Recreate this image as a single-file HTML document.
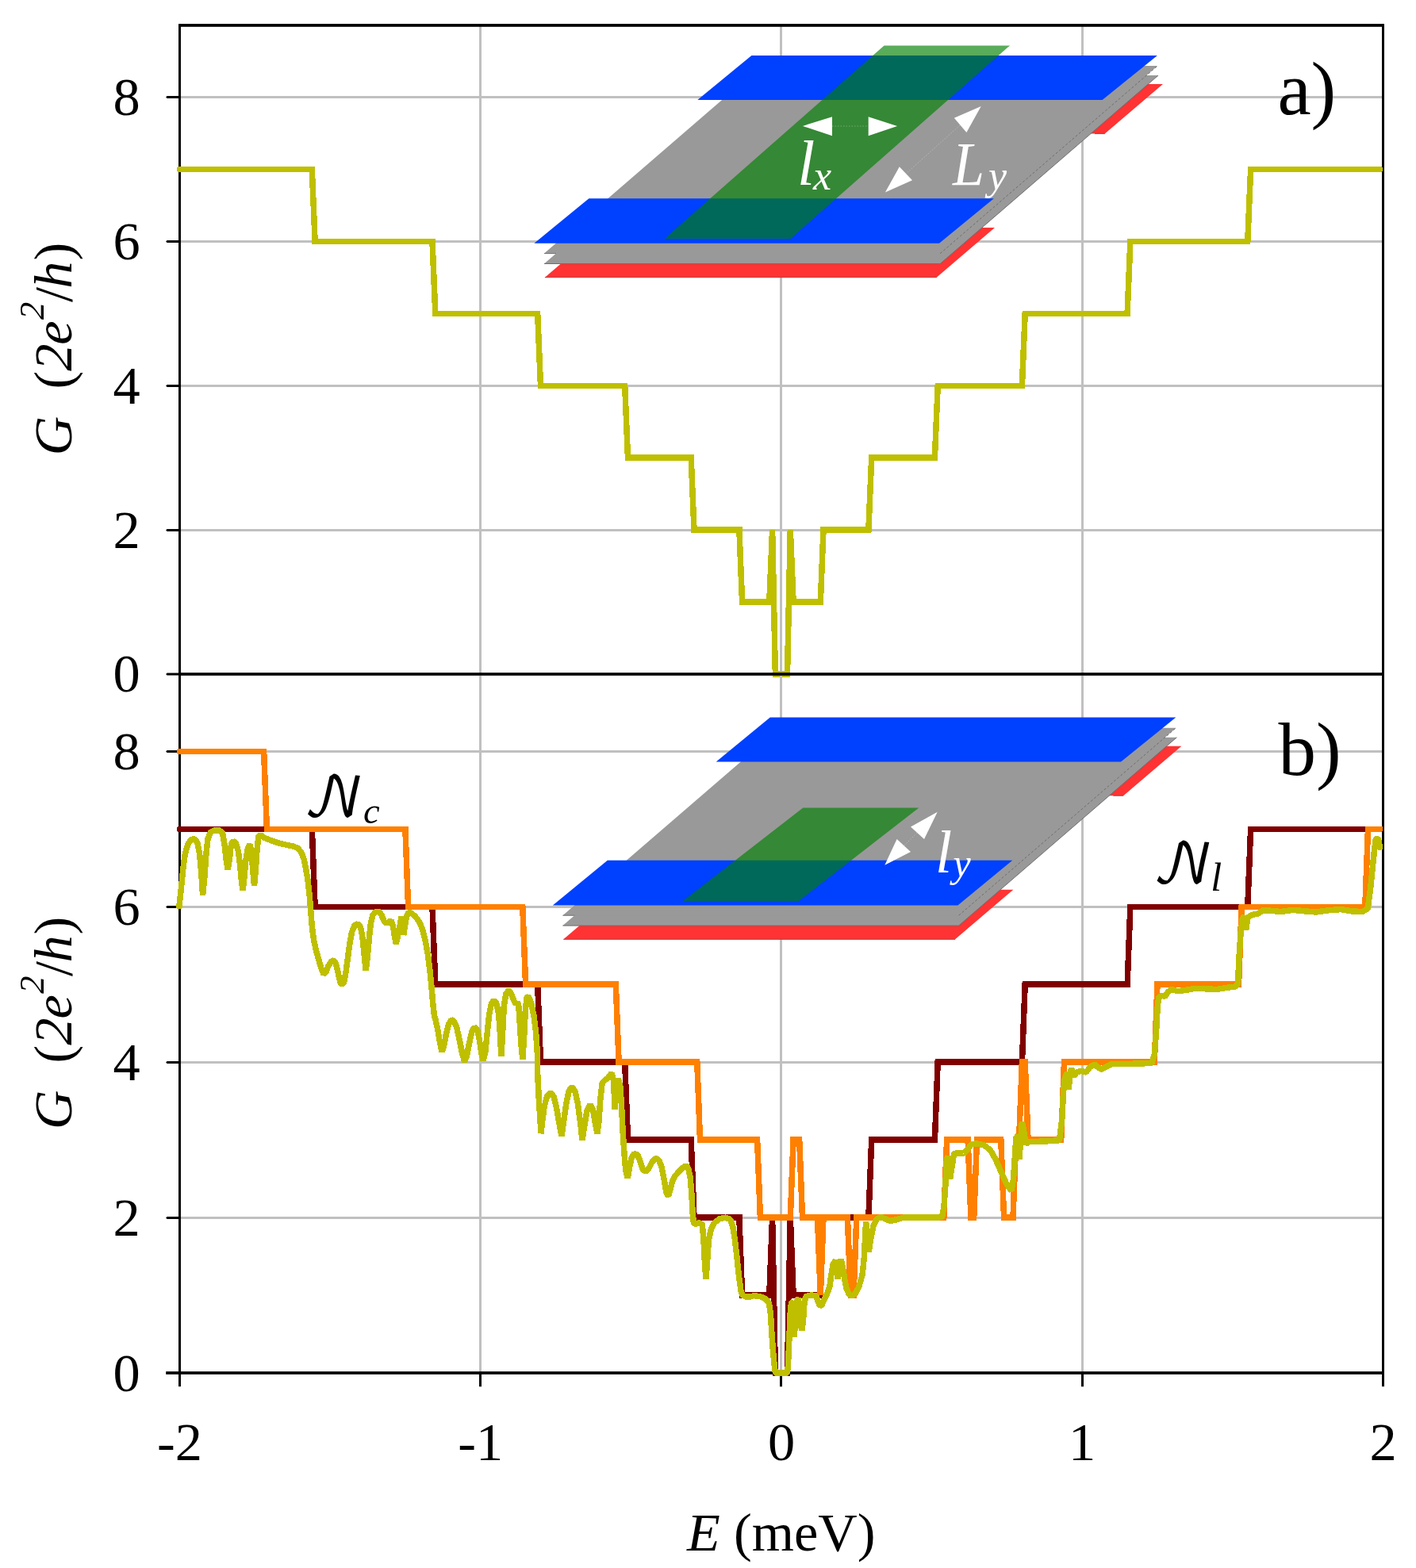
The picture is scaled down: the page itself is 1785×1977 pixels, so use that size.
<!DOCTYPE html>
<html lang="en">
<head>
<meta charset="utf-8">
<title>Conductance G versus energy E</title>
<style>html,body{margin:0;padding:0;background:#fff}svg{display:block}</style>
</head>
<body>
<svg width="1785" height="1977" viewBox="0 0 1785 1977" role="img" aria-label="Conductance G (2e2/h) versus energy E (meV), panels a and b">
<rect width="1785" height="1977" fill="#fff"/>
<rect x="604" y="32" width="3" height="818" fill="#c0c0c0"/>
<rect x="983" y="32" width="3" height="818" fill="#c0c0c0"/>
<rect x="1363" y="32" width="3" height="818" fill="#c0c0c0"/>
<rect x="226.5" y="667" width="1517" height="3" fill="#c0c0c0"/>
<rect x="226.5" y="485" width="1517" height="3" fill="#c0c0c0"/>
<rect x="226.5" y="303" width="1517" height="3" fill="#c0c0c0"/>
<rect x="226.5" y="121" width="1517" height="3" fill="#c0c0c0"/>
<rect x="225" y="30.1" width="3" height="819.9" fill="#000"/>
<rect x="1742" y="30.1" width="3" height="819.9" fill="#000"/>
<rect x="226.5" y="30.1" width="1517" height="3.7" fill="#000"/>
<polygon points="226.5,848.4 210.5,848.4 209.2,849.9 210.5,851.4 226.5,851.4" fill="#000"/>
<polygon points="226.5,667 210.5,667 209.2,668.5 210.5,670 226.5,670" fill="#000"/>
<polygon points="226.5,485 210.5,485 209.2,486.5 210.5,488 226.5,488" fill="#000"/>
<polygon points="226.5,303 210.5,303 209.2,304.5 210.5,306 226.5,306" fill="#000"/>
<polygon points="226.5,121 210.5,121 209.2,122.5 210.5,124 226.5,124" fill="#000"/>
<g transform="translate(0,0)">
<polygon points="686.9,349.7 1180.7,349.7 1254,287.1 760.2,287.1" fill="#ff3333"/>
<polygon points="899,168.6 1392.8,168.6 1466,106.1 972.2,106.1" fill="#ff3333"/>
<path d="M686.9,349.7H1180.7M1392.8,168.6H1380" stroke="#8a4a4a" stroke-width="1" fill="none"/>
<polygon points="686,332.5 1185.2,332.5 1460,95.1 960.8,95.1" fill="#999"/>
<path d="M686,332.5H1185.2L1460,95.1" stroke="#6e6e6e" stroke-width="1" fill="none"/>
<polygon points="686,319.6 1185.2,319.6 1459.1,83.1 959.9,83.1" fill="#999"/>
<path d="M686,319.6H701" stroke="#6e6e6e" stroke-width="1" fill="none"/>
<path d="M1185.2,319.6L1459.1,83.1" stroke="#6e6e6e" stroke-width="1" stroke-dasharray="3 2.5" fill="none"/>
<polygon points="673.4,306.8 1184,306.8 1252.9,250.2 742.4,250.2" fill="#0040ff"/>
<polygon points="879.3,126 1389.6,126 1458.9,70 947.4,70" fill="#0040ff"/>
</g>
<polygon points="837.7,300.9 996.6,300.9 1273.1,57.4 1114.5,57.4" fill="#008000" fill-opacity="0.65"/>
<g fill="#fff"><polygon points="1011.9,158.9 1049,147.2 1049,171.2"/><polygon points="1131.1,158.9 1094.7,147.2 1094.7,171.2"/><polygon points="1236.7,134.1 1202.8,148.8 1218.4,166.9"/><polygon points="1115.9,242.6 1133.8,210.3 1150,227.3"/></g><g stroke="#fff" stroke-opacity="0.3" stroke-width="1" stroke-dasharray="1.5 2" fill="none"><line x1="1049" y1="159" x2="1094.7" y2="159"/><line x1="1210" y1="158" x2="1142" y2="219"/></g>
<g fill="#fff" font-family="'Liberation Serif', serif" font-style="italic"><text x="1005" y="233.4" font-size="80">l</text><text x="1025" y="239" font-size="52">x</text><text x="1201" y="232.7" font-size="79" textLength="40" lengthAdjust="spacingAndGlyphs">L</text><text x="1246" y="238.6" font-size="52">y</text></g>
<polyline points="226.4,213.6 393.3,213.6 397.1,304.5 545,304.5 548.8,395.4 677.7,395.4 681.5,486.3 787.7,486.3 791.5,577.2 871.2,577.2 875,668.1 931.9,668.1 935.6,759 969.8,759 973.6,668.1 977.4,849.9 992.5,849.9 996.3,668.1 1000.1,759 1034.3,759 1038,668.1 1094.9,668.1 1098.7,577.2 1178.4,577.2 1182.2,486.3 1288.4,486.3 1292.2,395.4 1421.1,395.4 1424.9,304.5 1572.8,304.5 1576.6,213.6 1739.7,213.6" fill="none" stroke="#bfbf00" stroke-width="7.5" stroke-linejoin="miter" stroke-miterlimit="2" stroke-linecap="round" shape-rendering="crispEdges"/>
<rect x="604" y="851.9" width="3" height="879.1" fill="#c0c0c0"/>
<rect x="983" y="851.9" width="3" height="879.1" fill="#c0c0c0"/>
<rect x="1363" y="851.9" width="3" height="879.1" fill="#c0c0c0"/>
<rect x="226.5" y="1534" width="1517" height="3" fill="#c0c0c0"/>
<rect x="226.5" y="1338" width="1517" height="3" fill="#c0c0c0"/>
<rect x="226.5" y="1142" width="1517" height="3" fill="#c0c0c0"/>
<rect x="226.5" y="946" width="1517" height="3" fill="#c0c0c0"/>
<rect x="225" y="848.1" width="3" height="900.1" fill="#000"/>
<rect x="1742" y="848.1" width="3" height="900.1" fill="#000"/>
<rect x="226.5" y="848.1" width="1517" height="3.7" fill="#000"/>
<rect x="209.2" y="1729.2" width="1534.3" height="3.7" fill="#000"/>
<rect x="604" y="1731" width="3" height="17.3" fill="#000"/>
<rect x="983" y="1731" width="3" height="17.3" fill="#000"/>
<rect x="1363" y="1731" width="3" height="17.3" fill="#000"/>
<polygon points="226.5,1534 210.5,1534 209.2,1535.5 210.5,1537 226.5,1537" fill="#000"/>
<polygon points="226.5,1338 210.5,1338 209.2,1339.5 210.5,1341 226.5,1341" fill="#000"/>
<polygon points="226.5,1142 210.5,1142 209.2,1143.5 210.5,1145 226.5,1145" fill="#000"/>
<polygon points="226.5,946 210.5,946 209.2,947.5 210.5,949 226.5,949" fill="#000"/>
<g transform="translate(23.4,834.6)">
<polygon points="686.9,349.7 1180.7,349.7 1254,287.1 760.2,287.1" fill="#ff3333"/>
<polygon points="899,168.6 1392.8,168.6 1466,106.1 972.2,106.1" fill="#ff3333"/>
<path d="M686.9,349.7H1180.7M1392.8,168.6H1380" stroke="#8a4a4a" stroke-width="1" fill="none"/>
<polygon points="686,332.5 1185.2,332.5 1460,95.1 960.8,95.1" fill="#999"/>
<path d="M686,332.5H1185.2L1460,95.1" stroke="#6e6e6e" stroke-width="1" fill="none"/>
<polygon points="686,319.6 1185.2,319.6 1459.1,83.1 959.9,83.1" fill="#999"/>
<path d="M686,319.6H701" stroke="#6e6e6e" stroke-width="1" fill="none"/>
<path d="M1185.2,319.6L1459.1,83.1" stroke="#6e6e6e" stroke-width="1" stroke-dasharray="3 2.5" fill="none"/>
<polygon points="673.4,306.8 1184,306.8 1252.9,250.2 742.4,250.2" fill="#0040ff"/>
<polygon points="879.3,126 1389.6,126 1458.9,70 947.4,70" fill="#0040ff"/>
</g>
<polygon points="860.9,1136 1006.9,1136 1158.3,1018.5 1012.3,1018.5" fill="#008000" fill-opacity="0.65"/>
<g fill="#fff"><polygon points="1181.7,1023.8 1148,1042.4 1165,1058"/><polygon points="1115.3,1090.8 1130.6,1058 1148,1074.1"/></g><g stroke="#fff" stroke-opacity="0.3" stroke-width="1" stroke-dasharray="1.5 2" fill="none"><line x1="1156" y1="1050" x2="1140" y2="1066"/></g>
<g fill="#fff" font-family="'Liberation Serif', serif" font-style="italic"><text x="1179" y="1099.5" font-size="76">l</text><text x="1201.5" y="1105" font-size="50">y</text></g>
<polyline points="226.4,1045.3 393.3,1045.3 397.1,1143.3 545,1143.3 548.8,1241.2 677.7,1241.2 681.5,1339.2 787.7,1339.2 791.5,1437.2 871.2,1437.2 875,1535.1 931.9,1535.1 935.6,1633 969.8,1633 973.6,1535.1 977.4,1731 992.5,1731 996.3,1535.1 1000.1,1633 1034.3,1633 1038,1535.1 1094.9,1535.1 1098.7,1437.2 1178.4,1437.2 1182.2,1339.2 1288.4,1339.2 1292.2,1241.2 1421.1,1241.2 1424.9,1143.3 1572.8,1143.3 1576.6,1045.3 1739.7,1045.3" fill="none" stroke="#800000" stroke-width="7.5" stroke-linejoin="miter" stroke-miterlimit="2" stroke-linecap="round" shape-rendering="crispEdges"/>
<polyline points="226.4,947.4 332.6,947.4 336.4,1045.3 510.9,1045.3 514.6,1143.3 658.8,1143.3 662.6,1241.2 776.3,1241.2 780.1,1339.2 878.8,1339.2 882.5,1437.2 954.6,1437.2 958.4,1535.1 996.3,1535.1 1000.1,1437.2 1007.7,1437.2 1011.5,1535.1 1030.5,1535.1 1034.3,1633 1038,1535.1 1068.4,1535.1 1072.2,1633 1076,1633 1079.8,1535.1 1189.8,1535.1 1193.6,1437.2 1220.1,1437.2 1223.9,1535.1 1227.7,1535.1 1231.5,1437.2 1261.8,1437.2 1265.6,1535.1 1277,1535.1 1280.8,1437.2 1284.6,1437.2 1288.4,1339.2 1292.2,1339.2 1296,1437.2 1337.7,1437.2 1341.5,1339.2 1455.3,1339.2 1459,1241.2 1561.5,1241.2 1565.2,1143.3 1720.8,1143.3 1724.5,1045.3 1739.7,1045.3" fill="none" stroke="#ff8000" stroke-width="7.5" stroke-linejoin="miter" stroke-miterlimit="2" stroke-linecap="round" shape-rendering="crispEdges"/>
<polyline points="225.9,1142.6 228.4,1119.9 230.9,1094.7 233.4,1076.2 236.8,1064.5 241,1058.6 245.2,1057.7 248.6,1061.9 251.6,1076.2 253.6,1098.1 255.6,1128.3 257.8,1106.5 259.8,1077.9 262,1057.7 265.4,1049.3 270.4,1046.8 276.3,1046.8 280.5,1050.2 283,1064.5 285.2,1084.6 287.2,1096.4 289.2,1084.6 291.4,1064.5 293.9,1060.3 297.3,1062.8 300.3,1072.9 302.7,1091.3 304.5,1111.5 306.1,1122.4 307.7,1108.2 309.9,1084.6 312.4,1069.5 315,1064.5 317.1,1076.2 318.8,1098.1 320.5,1116.6 322.2,1098.1 323.9,1072.9 325.9,1054.4 328.4,1052.7 332.6,1056.1 341,1059.4 351.1,1062.8 361.2,1065.3 369.6,1067 375.5,1069.5 379.7,1074.5 383,1082.9 385.5,1094.7 388.1,1109.8 390.1,1128.3 391.8,1148.5 393.4,1168.7 395.6,1185.5 398.2,1197.2 401.5,1209 404.9,1220.8 407.9,1228.3 410.8,1225.8 414.1,1217.4 417.5,1212.4 420.8,1210.7 423.7,1215.7 426.4,1227.5 428.7,1237.6 430.9,1241.8 433.4,1239.2 436,1225.8 438.5,1207.3 441,1188.8 443.5,1175.4 446.9,1167 451.1,1164.5 454.5,1168.7 457,1182.1 459,1202.3 461.2,1223.3 463.4,1205.6 465.4,1182.1 467.4,1163.6 470.1,1153.5 473.8,1149.3 478,1149.3 481.3,1154.4 484.7,1162.8 488.9,1163.6 493.1,1160.3 495.6,1168.7 497.6,1182.1 499.3,1189.7 502.5,1175.6 504.2,1167.2 505.9,1155.5 507.6,1167.2 508.7,1179 510.4,1167.2 512.6,1155.5 515.1,1150.4 518.5,1151.3 523.5,1155.5 528.6,1162.2 532.8,1172.3 536.1,1185.7 539.5,1204.2 542,1224.4 544,1244.5 545.7,1264.7 547.4,1279.8 549.6,1288.2 552.1,1300 554.6,1315.1 557.1,1326.1 559.7,1318.5 562.2,1305 565.5,1291.6 568.9,1285.7 572.3,1287.4 575.6,1295 579,1310.1 582.4,1326.9 585.7,1338.7 588.2,1331.9 591.6,1315.1 595,1300 598.3,1295 601.7,1298.3 604.2,1310.1 606.7,1326.9 609.2,1337 611.8,1326.9 614.3,1301.7 616.8,1278.2 619.7,1264.7 622.7,1261.3 625.7,1264.7 628.6,1278.2 630.3,1301.7 631.9,1331.9 633.6,1301.7 635.3,1268.1 637.8,1252.9 641.2,1248.7 644.5,1252.9 647.6,1261.3 650.4,1266.4 652.1,1263 653.8,1268.1 655.5,1293.3 657.1,1318.5 658.8,1335.3 660.5,1310.1 662.2,1276.5 663.9,1258 666.4,1256.3 669.7,1264.7 673.1,1281.5 675.6,1301.7 677.3,1326.9 677.7,1353.6 679.4,1387.2 681.1,1414.1 681.9,1429.2 683.6,1414.1 686.1,1395.6 689.5,1382.2 694,1378 697.9,1382.2 701.3,1395.6 704.6,1414.1 708,1432.6 710.5,1414.1 713.9,1390.6 717.2,1375.5 720.9,1370.4 724.8,1375.5 728.2,1390.6 731.5,1414.1 734,1437.6 736.6,1420.8 739.9,1400.7 744.1,1392.3 747.5,1399 750,1414.1 752.9,1429.2 755,1414.1 756.7,1387.2 759.2,1365.4 762.6,1362 766.8,1358.7 771,1352.8 773.5,1362 775.2,1399 776.9,1370.4 779.4,1360.3 781.9,1370.4 783.6,1395.6 785.3,1429.2 787,1454.5 788.7,1474.6 791.2,1485.5 793.7,1471.3 796.2,1459.5 799.6,1454.5 803.8,1456.1 807.1,1464.5 810.5,1474.6 813.9,1477.1 818.1,1472.9 822.3,1464.5 826.5,1460.3 830.7,1462.9 834,1471.3 837.4,1488.1 839.9,1503.2 842.4,1508.2 845,1499.8 847.5,1489.7 850.8,1483 855,1478 860.1,1472.9 864.3,1469.6 867.6,1472.9 870.2,1484.7 871.8,1504.9 873.2,1530.1 874.4,1541.8 876.9,1543.5 881.1,1541.8 885.3,1543.5 887,1563.7 888.7,1597.3 890,1612.4 891.7,1588.9 893.4,1563.7 896.2,1550.3 900.4,1541.8 907.1,1536.8 914.7,1535.1 920.6,1537.6 923.9,1546.9 926.5,1563.7 929,1585.5 931.5,1609.1 934,1627.6 935.9,1633 940.3,1635.2 944.8,1635.2 950.4,1633.6 958.3,1634.7 965,1637.5 969.5,1643.1 971.5,1657.6 972.8,1680.1 974.4,1702.5 976.2,1721.5 977.4,1731 992.5,1731 993.4,1721.5 994.3,1702.5 995.2,1680.1 996,1657.6 997.5,1643.1 999.7,1640.8 1000.8,1663.2 1001.4,1685.7 1002.5,1663.2 1004.2,1640.8 1006.4,1636.4 1008.1,1652 1009.2,1668.9 1010.9,1677.8 1012.6,1663.2 1013.7,1646.4 1015.4,1635.2 1018.8,1633.6 1023.2,1633 1028.9,1634.1 1031.1,1640.8 1033.3,1646.4 1036.1,1645.3 1038.9,1638.6 1042.3,1631.9 1045.7,1622.9 1047.9,1607.2 1050.1,1593.8 1053.5,1589.3 1055.7,1612.8 1058,1596 1060.2,1588.2 1062.5,1598.3 1064.7,1612.8 1066.9,1624 1070.3,1631.9 1073.7,1634.1 1078.2,1630.8 1082.6,1622.9 1087.1,1607.2 1089.4,1584.8 1090.5,1562.4 1091.6,1540 1093.1,1562.1 1095.1,1578.9 1097.6,1562.1 1101,1545.3 1105.2,1536.9 1110.3,1534.4 1122,1539.4 1130.4,1537.7 1138.8,1535.2 1155.6,1535.2 1180.8,1535.2 1187.6,1534.4 1190.1,1520.1 1191.8,1494.9 1193.4,1461.3 1195.1,1457.9 1197.6,1486.5 1200.2,1469.7 1202.7,1454.5 1207.7,1453.7 1214.5,1454.5 1219.5,1449.5 1224.5,1442.8 1231.3,1441.9 1239.7,1443.6 1248.1,1449.5 1254.8,1461.3 1261.5,1476.4 1268.2,1491.5 1275,1501.6 1277.5,1486.5 1279.2,1461.3 1280.8,1436.1 1283.4,1431 1285,1461.3 1286.7,1436.1 1288.4,1414.2 1290.9,1427.6 1293.4,1442.8 1296.8,1439.4 1306.9,1439.4 1323.7,1438.6 1335.5,1437.7 1338.8,1410.8 1340.5,1377.2 1342.2,1360.4 1345.5,1352 1347.2,1373.9 1348.9,1353.7 1350.6,1347 1353.9,1357.1 1357.3,1352 1362.4,1350.3 1369.1,1352 1374.1,1345.3 1380,1341.9 1383.6,1345.4 1388.1,1348.3 1394.8,1344.9 1401.5,1341.6 1417.2,1341.6 1439.6,1340.9 1452,1340.4 1455.3,1329.2 1457.6,1300.1 1459.4,1266.5 1460.9,1257.5 1464.3,1255.3 1468.8,1256.4 1472.1,1250.8 1476.6,1247.5 1484.5,1249.7 1493.4,1248.6 1506.9,1246.3 1520.3,1246.8 1533.8,1247.5 1547.2,1245.2 1557.3,1244.1 1560.6,1239.6 1561.8,1210.5 1564,1176.9 1566.2,1158.9 1568.5,1154.5 1570.7,1172.4 1573,1156.7 1578.6,1153.3 1585.3,1152.2 1592,1147.7 1601,1148.2 1614.4,1149.5 1630.1,1147.3 1645.8,1148.9 1659.2,1150 1674.9,1147.7 1690.6,1146.6 1704.1,1148.9 1717.5,1149.5 1724.2,1145.5 1727.6,1120.8 1729.8,1098.4 1732.1,1076 1734.3,1058.1 1737.2,1057 1739.5,1068.2" fill="none" stroke="#bfbf00" stroke-width="7.5" stroke-linejoin="bevel" stroke-linecap="round" shape-rendering="crispEdges"/>
<g font-family="'Liberation Serif', serif" font-size="68.4" fill="#000">
<text x="176.6" y="872.4" text-anchor="end">0</text>
<text x="176.6" y="1753.5" text-anchor="end">0</text>
<text x="176.6" y="690.6" text-anchor="end">2</text>
<text x="176.6" y="1557.6" text-anchor="end">2</text>
<text x="176.6" y="508.8" text-anchor="end">4</text>
<text x="176.6" y="1361.7" text-anchor="end">4</text>
<text x="176.6" y="327" text-anchor="end">6</text>
<text x="176.6" y="1165.8" text-anchor="end">6</text>
<text x="176.6" y="145.2" text-anchor="end">8</text>
<text x="176.6" y="969.9" text-anchor="end">8</text>
<text x="226.4" y="1841.2" text-anchor="middle">-2</text>
<text x="605.7" y="1841.2" text-anchor="middle">-1</text>
<text x="985" y="1841.2" text-anchor="middle">0</text>
<text x="1364.2" y="1841.2" text-anchor="middle">1</text>
<text x="1743.5" y="1841.2" text-anchor="middle">2</text>
<text x="866.1" y="1955.2"><tspan font-style="italic">E</tspan> (meV)</text>
<text transform="translate(89.6,574.2) rotate(-90)"><tspan x="0" font-style="italic">G</tspan><tspan x="83.6">(</tspan><tspan x="106.4" font-style="italic">2</tspan><tspan x="139.5" font-style="italic">e</tspan><tspan x="171.3" dy="-35" font-size="44.5" font-style="italic">2</tspan><tspan x="193.2" dy="35">/</tspan><tspan x="210.5" font-style="italic">h</tspan><tspan x="245.6">)</tspan></text>
<text transform="translate(89.6,1424.1) rotate(-90)"><tspan x="0" font-style="italic">G</tspan><tspan x="83.6">(</tspan><tspan x="106.4" font-style="italic">2</tspan><tspan x="139.5" font-style="italic">e</tspan><tspan x="171.3" dy="-35" font-size="44.5" font-style="italic">2</tspan><tspan x="193.2" dy="35">/</tspan><tspan x="210.5" font-style="italic">h</tspan><tspan x="245.6">)</tspan></text>
</g>
<g font-family="'Liberation Serif', serif" font-size="95" fill="#000">
<text x="1610.4" y="144.4">a)</text>
<text x="1611.4" y="977.2">b)</text>
</g>
<g fill="#000">
<text x="382.6" y="1028.5" font-family="'DejaVu Math TeX Gyre', 'Liberation Serif', serif" font-size="69">𝒩</text>
<text x="458" y="1038.2" font-family="'Liberation Serif', serif" font-style="italic" font-size="46.5">c</text>
<text x="1453" y="1113.1" font-family="'DejaVu Math TeX Gyre', 'Liberation Serif', serif" font-size="69">𝒩</text>
<text x="1526.3" y="1123.2" font-family="'Liberation Serif', serif" font-style="italic" font-size="50">l</text>
</g>
</svg>
</body>
</html>
